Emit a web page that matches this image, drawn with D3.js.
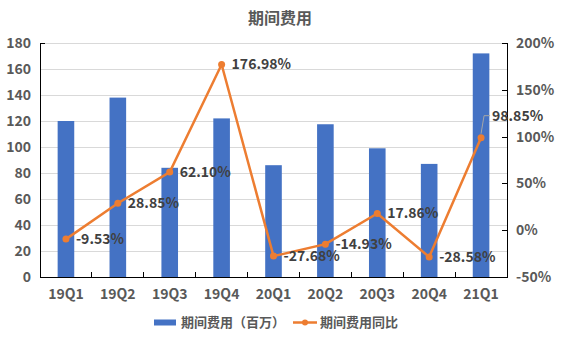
<!DOCTYPE html>
<html><head><meta charset="utf-8">
<script src="https://cdn.jsdelivr.net/npm/d3@7"></script>
<style>
body{margin:0;background:#fff;}
text{font-family:"Noto Sans CJK SC","Microsoft YaHei",sans-serif;}
</style></head>
<body><svg id="c" width="561" height="341"></svg>
<script>
const categories = ["19Q1","19Q2","19Q3","19Q4","20Q1","20Q2","20Q3","20Q4","21Q1"];
const expense = [120, 138, 84, 122, 86, 117.5, 99, 87, 172];
const yoy = [-9.53, 28.85, 62.10, 176.98, -27.68, -14.93, 17.86, -28.58, 98.85];
const leftTicks = [0,20,40,60,80,100,120,140,160,180];
const rightTicks = [-50,0,50,100,150,200];
const title = "期间费用";
const legendLabels = ["期间费用（百万）","期间费用同比"];

const blue = "#4472C4", orange = "#ED7D31";
const svg = d3.select("#c");
const L = 40, R = 507, T = 43, B = 277;

const x = d3.scaleBand().domain(categories).range([L, R]);
const yL = d3.scaleLinear().domain([0, 180]).range([B, T]);
const yR = d3.scaleLinear().domain([-50, 200]).range([B, T]);

svg.append("text").attr("x", 280).attr("y", 24).attr("text-anchor","middle")
  .attr("font-size", 16).attr("font-weight","bold").attr("fill","#595959").text(title);

// gridlines
svg.append("g").selectAll("line").data(leftTicks.slice(1)).join("line")
  .attr("x1", L).attr("x2", R).attr("y1", d=>yL(d)).attr("y2", d=>yL(d))
  .attr("stroke","#d9d9d9").attr("stroke-width",1).attr("shape-rendering","crispEdges");

// bars
const bw = x.bandwidth()*0.32;
svg.append("g").selectAll("rect").data(expense).join("rect")
  .attr("x", (d,i)=>x(categories[i]) + x.bandwidth()/2 - bw/2)
  .attr("width", bw)
  .attr("y", d=>yL(d)).attr("height", d=>B - yL(d))
  .attr("fill", blue);

// axes
const axisStyle = g => {
  g.selectAll("path,line").attr("stroke","#000").attr("shape-rendering","crispEdges");
  g.selectAll("text").attr("font-size",14).attr("font-weight","bold").attr("fill","#595959")
   .attr("font-family",'"Noto Sans CJK SC",sans-serif');
};
svg.append("g").attr("transform",`translate(${L},0)`)
  .call(d3.axisLeft(yL).tickValues(leftTicks).tickSizeInner(0).tickSizeOuter(-5).tickPadding(9))
  .call(axisStyle);
svg.append("g").attr("transform",`translate(${R},0)`)
  .call(d3.axisRight(yR).tickValues(rightTicks).tickSize(-5).tickPadding(9).tickFormat(d=>d+"%"))
  .call(axisStyle);
const xg = svg.append("g").attr("transform",`translate(0,${B})`)
  .call(d3.axisBottom(x).tickSize(0).tickPadding(12))
  .call(axisStyle);
// category boundary ticks (inward)
svg.append("g").selectAll("line").data(categories.slice(1)).join("line")
  .attr("x1", d=>x(d)).attr("x2", d=>x(d)).attr("y1", B).attr("y2", B-5)
  .attr("stroke","#000").attr("shape-rendering","crispEdges");

// line
const cx = i => x(categories[i]) + x.bandwidth()/2;
svg.append("path").datum(yoy)
  .attr("d", d3.line().x((d,i)=>cx(i)).y(d=>yR(d)))
  .attr("fill","none").attr("stroke",orange).attr("stroke-width",2.5);
svg.append("g").selectAll("circle").data(yoy).join("circle")
  .attr("cx",(d,i)=>cx(i)).attr("cy",d=>yR(d)).attr("r",3.5).attr("fill",orange);

// data labels
const lbl = svg.append("g");
yoy.forEach((d,i)=>{
  const px = cx(i), py = yR(d);
  let tx = px + 10, ty = py;
  if (i === yoy.length-1) {
    tx = px + 11; ty = py - 22;
    lbl.append("path").attr("d",`M${px},${py-4}L${px+3},${ty}L${px+9},${ty}`)
      .attr("fill","none").attr("stroke","#a6a6a6").attr("stroke-width",1);
  }
  lbl.append("text").attr("x",tx).attr("y",ty).attr("dy","0.35em")
    .attr("font-size",14).attr("font-weight","bold").attr("fill","#404040")
    .text(d.toFixed(2)+"%");
});

// legend
const lg = svg.append("g");
lg.append("rect").attr("x",154).attr("y",319.5).attr("width",22).attr("height",6).attr("fill",blue);
lg.append("text").attr("x",181).attr("y",322.5).attr("dy","0.35em").attr("font-size",13)
  .attr("font-weight","bold").attr("fill","#595959").text(legendLabels[0]);
lg.append("line").attr("x1",293).attr("x2",317).attr("y1",322.5).attr("y2",322.5)
  .attr("stroke",orange).attr("stroke-width",2.5);
lg.append("circle").attr("cx",305).attr("cy",322.5).attr("r",3).attr("fill",orange);
lg.append("text").attr("x",320).attr("y",322.5).attr("dy","0.35em").attr("font-size",13)
  .attr("font-weight","bold").attr("fill","#595959").text(legendLabels[1]);
</script></body></html>
